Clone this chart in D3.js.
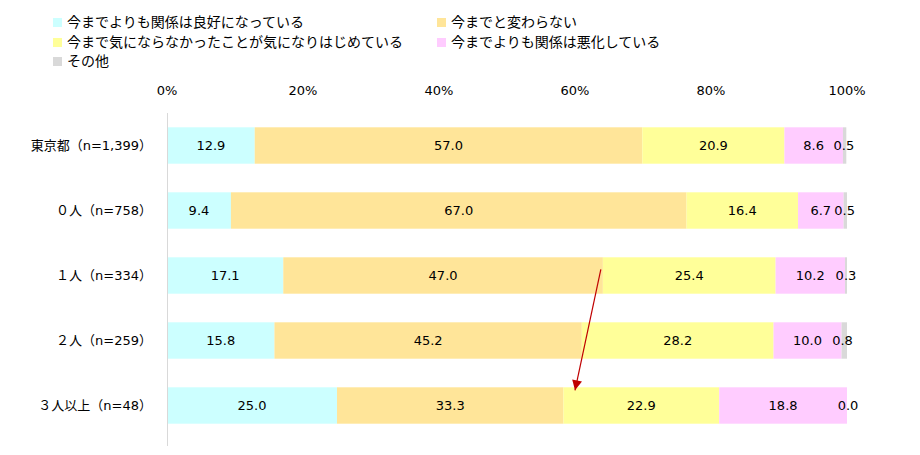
<!DOCTYPE html>
<html>
<head>
<meta charset="utf-8">
<script src="https://cdn.jsdelivr.net/npm/d3@7"></script>
<style>
  body { margin: 0; background: #fff; }
  text { font-family: "DejaVu Sans", "Noto Sans CJK JP", sans-serif; fill: #000; }
</style>
</head>
<body>
<svg id="chart" width="920" height="455"></svg>
<script>
// categories and series
var categories = ['東京都（n=1,399）', '０人（n=758）', '１人（n=334）', '２人（n=259）', '３人以上（n=48）'];
var seriesNames = [
    '今までよりも関係は良好になっている',
    '今までと変わらない',
    '今まで気にならなかったことが気になりはじめている',
    '今までよりも関係は悪化している',
    'その他'
];
var seriesColors = ['#ccffff', '#ffe599', '#ffff99', '#ffccff', '#d9d9d9'];
var better   = [12.9,  9.4, 17.1, 15.8, 25.0];
var same     = [57.0, 67.0, 47.0, 45.2, 33.3];
var noticing = [20.9, 16.4, 25.4, 28.2, 22.9];
var worse    = [ 8.6,  6.7, 10.2, 10.0, 18.8];
var other    = [ 0.5,  0.5,  0.3,  0.8,  0.0];
var tickValues = [0, 20, 40, 60, 80, 100];
// arrow annotation in data units: [percent, row]
var arrowFrom = [63.8, 2];
var arrowTo   = [60.0, 4];

var svg = d3.select('#chart');
var margin = { left: 167, right: 73, top: 113, bottom: 17 };
var width = 920 - margin.left - margin.right,
    height = 455 - margin.top - margin.bottom;

var x = d3.scaleLinear().domain([0, 100]).range([0, width]);
var y = d3.scaleBand().domain(d3.range(categories.length)).range([0, height])
    .paddingInner(0.44).paddingOuter(0.22);

var rows = categories.map(function( c, i ){
    return { cat: c, v: [better[i], same[i], noticing[i], worse[i], other[i]] };
});

var g = svg.append('g').attr('transform', 'translate(' + margin.left + ',' + margin.top + ')');

// bars
rows.forEach(function( r, i ){
    var acc = 0;
    var row = g.append('g').attr('transform', 'translate(0,' + y(i) + ')');
    r.v.forEach(function( v, k ){
        row.append('rect')
            .attr('x', x(acc))
            .attr('width', x(acc + v) - x(acc))
            .attr('height', y.bandwidth())
            .attr('fill', seriesColors[k]);
        var cx = x(acc + v / 2);
        if ( k === 4 ) { cx = x(acc) + 1; }
        row.append('text')
            .attr('x', cx)
            .attr('y', y.bandwidth() / 2)
            .attr('dy', '0.35em')
            .attr('text-anchor', 'middle')
            .style('font-size', '13px')
            .text(v.toFixed(1));
        acc += v;
    });
});

// axis line
g.append('line')
    .attr('x1', 0.5).attr('x2', 0.5)
    .attr('y1', 0).attr('y2', height + 8)
    .attr('stroke', '#d9d9d9');

// top tick labels
g.selectAll('.tick-label').data(tickValues).enter().append('text')
    .attr('class', 'tick-label')
    .attr('x', function( d ){ return x(d); })
    .attr('y', -18)
    .attr('text-anchor', 'middle')
    .style('font-size', '13px')
    .text(function( d ){ return d + '%'; });

// category labels
g.selectAll('.cat').data(categories).enter().append('text')
    .attr('class', 'cat')
    .attr('x', -15)
    .attr('y', function( d, i ){ return y(i) + y.bandwidth() / 2; })
    .attr('dy', '0.35em')
    .attr('text-anchor', 'end')
    .style('font-size', '13px')
    .text(function( d ){ return d; });

// arrow
svg.append('defs').append('marker')
    .attr('id', 'head')
    .attr('viewBox', '0 0 10 10')
    .attr('refX', 10).attr('refY', 5)
    .attr('markerUnits', 'userSpaceOnUse')
    .attr('markerWidth', 12).attr('markerHeight', 10)
    .attr('orient', 'auto')
    .append('path').attr('d', 'M0,0L10,5L0,10Z').attr('fill', '#c00000');

g.append('line')
    .attr('x1', x(arrowFrom[0])).attr('y1', y(arrowFrom[1]) + 12)
    .attr('x2', x(arrowTo[0])).attr('y2', y(arrowTo[1]) + 3)
    .attr('stroke', '#c00000').attr('stroke-width', 1.2)
    .attr('marker-end', 'url(#head)');

// legend
var legendPos = [[53, 22], [437, 22], [53, 42], [437, 42], [53, 61]];
var legend = svg.append('g');
seriesNames.forEach(function( n, k ){
    var lg = legend.append('g').attr('transform', 'translate(' + legendPos[k][0] + ',' + legendPos[k][1] + ')');
    lg.append('rect').attr('x', 0).attr('y', -4).attr('width', 9).attr('height', 9)
        .attr('fill', seriesColors[k]);
    lg.append('text').attr('x', 14).attr('y', 0).attr('dy', '0.35em')
        .style('font-size', '14px').text(n);
});
</script>
</body>
</html>
